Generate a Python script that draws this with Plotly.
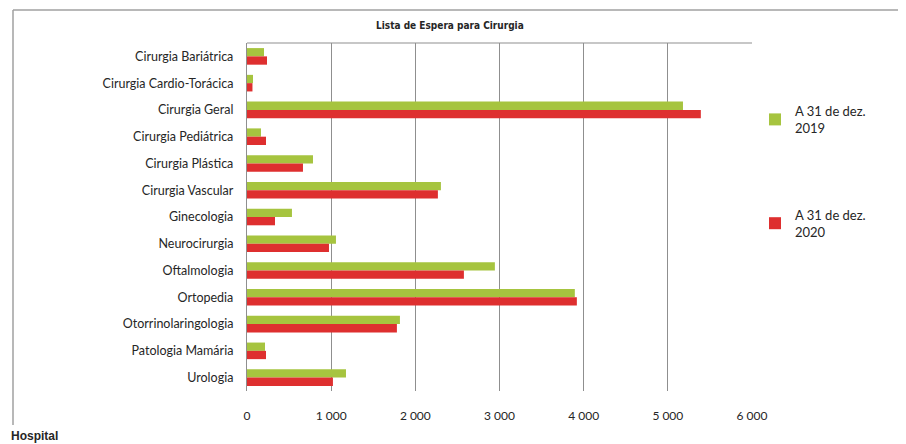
import plotly.graph_objects as go

categories = [
    "Cirurgia Bariátrica", "Cirurgia Cardio-Torácica", "Cirurgia Geral",
    "Cirurgia Pediátrica", "Cirurgia Plástica", "Cirurgia Vascular",
    "Ginecologia", "Neurocirurgia", "Oftalmologia", "Ortopedia",
    "Otorrinolaringologia", "Patologia Mamária", "Urologia",
]
values_2019 = [202, 71, 5180, 166, 784, 2304, 534, 1057, 2945, 3895, 1817, 214, 1176]
values_2020 = [238, 65, 5392, 226, 665, 2268, 333, 974, 2577, 3919, 1781, 226, 1021]
series_names = ["A 31 de dez.<br>2019", "A 31 de dez.<br>2020"]
tick_vals = [0, 1000, 2000, 3000, 4000, 5000, 6000]
tick_text = ["0", "1 000", "2 000", "3 000", "4 000", "5 000", "6 000"]

OFF = 8  # page body margin
W, H = 906, 444
# plot area in window pixels
X0, X1, Y0, Y1 = 247, 752, 43, 391
L = X0 - OFF
T = Y0 - OFF
R = W - (X1 - OFF)
B = H - (Y1 - OFF)
PW, PH = X1 - X0, Y1 - Y0


def px(x):
    return (x - X0) / PW


def py(y):
    return 1 - (y - Y0) / PH


GREEN = "#A6C43F"
RED = "#DE2F2F"

fig = go.Figure()
fig.add_trace(go.Bar(
    y=categories, x=values_2019, orientation="h", name=series_names[0],
    marker=dict(color=GREEN, line=dict(width=0)), legendgroup="a",
))
fig.add_trace(go.Bar(
    y=categories, x=values_2020, orientation="h", name=series_names[1],
    marker=dict(color=RED, line=dict(width=0)), legendgroup="b",
))

grid = "#8F8F8F"
shapes = [
    dict(type="line", xref="paper", yref="paper", x0=px(13), x1=px(13), y0=py(10), y1=py(425),
         line=dict(color="#A0A0A0", width=1.5)),
    dict(type="line", xref="paper", yref="paper", x0=px(13), x1=px(920), y0=py(10), y1=py(10),
         line=dict(color="#A0A0A0", width=1.5)),
    dict(type="line", xref="paper", yref="paper", x0=0, x1=1, y0=1, y1=1,
         line=dict(color=grid, width=1.2)),
]

fig.update_layout(
    width=W, height=H,
    margin=dict(l=L, r=R, t=T, b=B, autoexpand=False),
    paper_bgcolor="white", plot_bgcolor="white",
    barmode="group", bargap=0.38, bargroupgap=0,
    showlegend=True,
    legend=dict(
        x=px(755), y=py(96), xanchor="left", yanchor="top",
        font=dict(family="Lato, Open Sans, sans-serif", size=13, color="#262626"),
        tracegroupgap=67, itemwidth=30, bgcolor="rgba(0,0,0,0)",
        traceorder="grouped",
    ),
    xaxis=dict(
        range=[0, 6000], tickvals=tick_vals, ticktext=tick_text,
        showgrid=True, gridcolor=grid, gridwidth=1.3, zeroline=False,
        ticks="outside", ticklen=14, tickcolor="rgba(0,0,0,0)",
        tickfont=dict(family="Lato, Open Sans, sans-serif", size=12, color="#262626"),
        fixedrange=True,
    ),
    yaxis=dict(
        autorange="reversed", showline=True, linecolor=grid, linewidth=1.3,
        ticks="outside", ticklen=10, tickcolor="rgba(0,0,0,0)",
        tickfont=dict(family="Lato, Open Sans, sans-serif", size=12.5, color="#262626"),
        showgrid=False,
    ),
    shapes=shapes,
    annotations=[
        dict(text="<b>Lista de Espera para Cirurgia</b>", xref="paper", yref="paper",
             x=px(450), y=py(26), xanchor="center", yanchor="middle", showarrow=False,
             font=dict(family="Liberation Sans Narrow, DejaVu Sans Condensed, sans-serif", size=10, color="#262626")),
        dict(text="<b>Hospital</b>", xref="paper", yref="paper",
             x=px(9), y=py(436), xanchor="left", yanchor="middle", showarrow=False,
             font=dict(family="Liberation Sans, Arial, sans-serif", size=12, color="#262626")),
    ],
)

fig.write_html("out.html")
